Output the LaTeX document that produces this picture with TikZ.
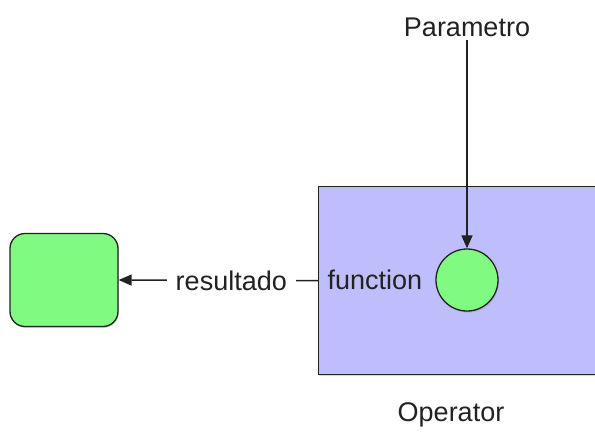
\documentclass[tikz,border=0pt]{standalone}
\usepackage{fontspec}
\setmainfont{Liberation Sans}
\usetikzlibrary{arrows.meta,shadows}
\definecolor{opfill}{HTML}{BEBEFC}
\definecolor{grn}{HTML}{80FA80}
\definecolor{ink}{HTML}{222222}
\begin{document}
\begin{tikzpicture}[x=1pt,y=-1pt,
  font=\fontsize{27}{32}\selectfont, text=ink,
  opbox/.style={draw=ink, line width=1.3pt, fill=opfill, minimum width=320pt, minimum height=188pt, inner sep=0pt},
  ball/.style={circle, draw=ink, line width=1.3pt, fill=grn, minimum size=62pt, inner sep=0pt,
    drop shadow={shadow xshift=0.8pt, shadow yshift=-1.5pt, opacity=0.35}},
  sq/.style={draw=ink, line width=1.3pt, fill=grn, rounded corners=15pt, minimum width=108pt, minimum height=93pt, inner sep=0pt,
    drop shadow={shadow xshift=0.8pt, shadow yshift=-1.5pt, opacity=0.35}},
  arr/.style={draw=ink, line width=1.4pt, -{Triangle[length=13pt,width=11pt]}},
  lbl/.style={fill=white, inner xsep=9pt, inner ysep=2pt}
]
\useasboundingbox (0,0) rectangle (595,432);
\fill[white] (0,0) rectangle (595,432);
\node[opbox, anchor=north west, drop shadow={shadow xshift=0.8pt, shadow yshift=-1.5pt, opacity=0.3}] (op) at (318,186) {};
\node[ball] (par) at (467,280) {};
\node[anchor=west] (fn) at (324,280) {function};
\node (ptxt) at (467,27) {Parametro};
\node (optxt) at (451,415) {Operator};
\node[sq] (res) at (64,280) {};
\draw[arr] (ptxt) -- (par);
\draw[arr] (op.west) -- node[lbl, pos=0.435] {resultado} (res.east);
\end{tikzpicture}
\end{document}
